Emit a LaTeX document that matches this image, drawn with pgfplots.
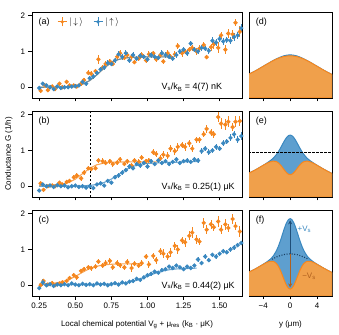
\documentclass[border=0pt]{standalone}
\usepackage{pgfplots}
\pgfplotsset{compat=1.18}
\usepackage{pgfplotstable}
\usepackage{fontspec}
\setmainfont{Liberation Sans}
\usetikzlibrary{arrows.meta}
\definecolor{cor}{HTML}{F5871F}
\definecolor{cbl}{HTML}{3A88C0}
\definecolor{corf}{HTML}{F0A04B}
\definecolor{cblf}{HTML}{5E9FCF}
\definecolor{cord}{HTML}{B0601E}
\definecolor{cbld}{HTML}{1F4E78}

% ---- panel (a) ----
\pgfplotstableread{
x y e
0.26 -0.10 0.05
0.29 0.05 0.05
0.31 -0.08 0.05
0.34 0.02 0.05
0.36 -0.05 0.05
0.39 0.10 0.06
0.41 0.00 0.05
0.44 0.15 0.06
0.46 0.05 0.05
0.49 0.05 0.05
0.51 0.02 0.05
0.54 0.10 0.06
0.56 0.20 0.06
0.59 0.40 0.07
0.61 0.38 0.06
0.64 0.45 0.07
0.66 0.78 0.12
0.69 0.55 0.07
0.71 0.65 0.08
0.74 0.72 0.07
0.76 0.65 0.07
0.79 0.85 0.08
0.81 0.95 0.08
0.84 0.82 0.07
0.86 0.90 0.08
0.89 0.85 0.08
0.91 0.70 0.06
0.94 0.80 0.07
0.96 0.90 0.07
0.99 0.75 0.07
1.01 0.92 0.08
1.04 0.95 0.07
1.06 0.78 0.07
1.09 0.90 0.08
1.11 0.72 0.07
1.14 0.95 0.08
1.16 0.85 0.07
1.19 0.92 0.08
1.21 1.15 0.08
1.24 0.95 0.10
1.26 1.00 0.08
1.29 1.05 0.08
1.31 1.10 0.09
1.34 1.00 0.10
1.36 1.08 0.09
1.39 1.18 0.08
1.41 0.84 0.06
1.44 1.12 0.10
1.46 1.20 0.12
1.49 1.10 0.15
1.51 1.45 0.10
1.54 1.05 0.12
1.56 1.50 0.12
1.59 1.48 0.12
1.61 1.80 0.10
1.64 1.55 0.15
}\oa
\pgfplotstableread{
x y e
0.25 -0.02 0.05
0.275 0.10 0.05
0.30 0.05 0.05
0.325 0.00 0.05
0.35 -0.05 0.05
0.375 0.02 0.05
0.40 -0.02 0.05
0.425 0.00 0.05
0.45 0.00 0.05
0.475 0.02 0.05
0.50 0.03 0.05
0.525 0.05 0.05
0.55 0.15 0.06
0.575 0.10 0.06
0.60 0.25 0.06
0.625 0.30 0.06
0.65 0.40 0.06
0.675 0.50 0.07
0.70 0.55 0.07
0.725 0.68 0.07
0.75 0.65 0.07
0.775 0.75 0.07
0.80 0.92 0.08
0.825 0.85 0.08
0.85 0.95 0.08
0.875 0.75 0.07
0.90 0.90 0.08
0.925 0.80 0.07
0.95 0.88 0.07
0.975 0.85 0.07
1.00 0.78 0.07
1.025 0.90 0.07
1.05 0.85 0.07
1.075 0.82 0.07
1.10 0.95 0.08
1.125 0.90 0.07
1.15 0.85 0.07
1.175 0.80 0.07
1.20 0.90 0.08
1.225 1.00 0.08
1.25 1.05 0.08
1.275 0.95 0.08
1.30 1.22 0.08
1.325 1.05 0.08
1.35 1.00 0.08
1.375 1.10 0.08
1.40 1.08 0.08
1.425 1.02 0.08
1.45 1.30 0.09
1.475 1.25 0.09
1.50 1.35 0.09
1.525 1.28 0.09
1.55 1.32 0.09
1.575 1.30 0.10
1.60 1.40 0.10
1.625 1.45 0.10
1.65 1.65 0.12
}\ba
\pgfplotstableread{
x y
0.25 0.000
0.40 0.006
0.45 0.015
0.50 0.037
0.55 0.086
0.60 0.186
0.65 0.348
0.70 0.538
0.75 0.689
0.80 0.777
0.85 0.819
0.90 0.837
0.95 0.844
1.00 0.848
1.18 0.850
}\fa

% ---- panel (b) ----
\pgfplotstableread{
x y e
0.26 0.08 0.05
0.28 -0.10 0.05
0.31 0.00 0.04
0.34 0.02 0.04
0.36 0.00 0.04
0.39 0.10 0.05
0.41 0.05 0.05
0.44 0.12 0.05
0.46 0.15 0.05
0.49 0.25 0.06
0.51 0.30 0.06
0.54 0.22 0.06
0.56 0.38 0.06
0.59 0.50 0.06
0.61 0.48 0.06
0.64 0.50 0.06
0.66 0.72 0.08
0.69 0.70 0.08
0.71 0.65 0.07
0.74 0.70 0.07
0.76 0.62 0.07
0.79 0.66 0.07
0.81 0.75 0.07
0.84 0.62 0.06
0.86 0.70 0.07
0.89 0.58 0.06
0.91 0.72 0.07
0.94 0.68 0.07
0.96 0.80 0.07
0.99 0.70 0.07
1.01 0.72 0.07
1.04 0.95 0.08
1.06 0.90 0.08
1.09 0.78 0.08
1.11 0.88 0.10
1.14 0.85 0.10
1.16 1.05 0.10
1.19 0.98 0.10
1.21 1.10 0.12
1.24 1.15 0.08
1.26 1.10 0.12
1.29 1.20 0.10
1.31 1.05 0.10
1.34 1.30 0.08
1.36 1.30 0.08
1.39 1.45 0.08
1.41 1.60 0.12
1.44 1.50 0.10
1.46 1.45 0.10
1.49 1.93 0.15
1.51 1.75 0.15
1.54 1.72 0.15
1.56 1.80 0.15
1.59 1.65 0.12
1.61 1.80 0.15
1.64 1.82 0.15
}\ob
\pgfplotstableread{
x y e
0.25 -0.12 0.05
0.275 0.05 0.04
0.30 0.00 0.04
0.325 0.02 0.04
0.35 -0.02 0.04
0.375 0.03 0.04
0.40 0.00 0.04
0.425 0.02 0.04
0.45 -0.03 0.04
0.475 0.00 0.04
0.50 0.02 0.04
0.525 -0.02 0.04
0.55 0.00 0.04
0.575 -0.04 0.04
0.60 0.00 0.04
0.625 -0.05 0.04
0.65 0.05 0.05
0.675 0.08 0.05
0.70 0.02 0.05
0.725 0.15 0.05
0.75 0.10 0.05
0.775 0.25 0.06
0.80 0.30 0.06
0.825 0.38 0.06
0.85 0.45 0.06
0.875 0.55 0.06
0.90 0.50 0.06
0.925 0.62 0.06
0.95 0.58 0.06
0.975 0.65 0.06
1.00 0.55 0.06
1.025 0.70 0.06
1.05 0.62 0.06
1.075 0.72 0.07
1.10 0.65 0.06
1.125 0.70 0.06
1.15 0.62 0.06
1.175 0.68 0.06
1.20 0.75 0.06
1.225 0.65 0.06
1.25 0.70 0.06
1.275 0.72 0.06
1.30 0.68 0.06
1.325 0.75 0.06
1.35 0.72 0.06
1.375 0.98 0.08
1.40 1.05 0.08
1.425 0.95 0.08
1.45 1.00 0.08
1.475 1.10 0.08
1.50 1.05 0.08
1.525 1.20 0.08
1.55 1.25 0.08
1.575 1.35 0.10
1.60 1.45 0.10
1.625 1.30 0.10
1.65 1.40 0.10
}\bb
\pgfplotstableread{
x y
0.25 0.022
0.35 0.032
0.40 0.051
0.45 0.099
0.50 0.198
0.55 0.350
0.60 0.500
0.65 0.600
0.70 0.649
0.75 0.668
0.80 0.676
0.90 0.679
1.07 0.680
}\fob
\pgfplotstableread{
x y
0.25 0.000
0.50 0.004
0.60 0.023
0.65 0.050
0.70 0.105
0.75 0.200
0.80 0.330
0.85 0.460
0.90 0.555
0.95 0.610
1.00 0.637
1.10 0.656
1.20 0.670
1.36 0.695
}\fbb

% ---- panel (c) ----
\pgfplotstableread{
x y e
0.26 0.00 0.05
0.28 0.12 0.06
0.31 0.02 0.05
0.34 0.06 0.05
0.36 0.00 0.05
0.39 0.05 0.05
0.41 0.08 0.05
0.44 0.12 0.05
0.46 0.20 0.06
0.49 0.28 0.06
0.51 0.22 0.06
0.54 0.40 0.06
0.56 0.45 0.06
0.59 0.50 0.07
0.61 0.48 0.07
0.64 0.52 0.07
0.66 0.66 0.08
0.69 0.55 0.07
0.71 0.62 0.08
0.74 0.68 0.08
0.76 0.50 0.07
0.79 0.62 0.08
0.81 0.56 0.07
0.84 0.50 0.07
0.86 0.65 0.08
0.89 0.48 0.10
0.91 0.60 0.07
0.94 0.55 0.08
0.96 0.62 0.08
0.99 0.80 0.08
1.01 0.58 0.10
1.04 0.82 0.08
1.06 0.70 0.10
1.09 0.95 0.10
1.11 0.88 0.12
1.14 0.80 0.10
1.16 0.92 0.12
1.19 1.10 0.12
1.21 1.00 0.12
1.24 1.25 0.10
1.26 1.20 0.12
1.29 1.38 0.12
1.31 1.47 0.15
1.34 1.28 0.12
1.36 1.22 0.10
1.39 1.74 0.15
1.41 1.55 0.12
1.44 1.70 0.12
1.46 1.62 0.10
1.49 1.78 0.15
1.51 1.55 0.12
1.54 1.70 0.15
1.56 1.60 0.12
1.59 1.85 0.15
1.61 1.65 0.12
1.64 1.50 0.15
}\oc
\pgfplotstableread{
x y e
0.25 -0.08 0.05
0.275 0.08 0.10
0.30 0.00 0.05
0.325 0.03 0.04
0.35 -0.02 0.04
0.375 0.02 0.04
0.40 0.00 0.04
0.425 0.03 0.04
0.45 0.00 0.04
0.475 0.05 0.04
0.50 0.02 0.04
0.525 0.00 0.04
0.55 0.04 0.04
0.575 0.01 0.04
0.60 0.03 0.04
0.625 0.00 0.04
0.65 0.05 0.04
0.675 0.02 0.04
0.70 0.04 0.04
0.725 0.00 0.04
0.75 0.03 0.04
0.775 0.06 0.04
0.80 0.02 0.04
0.825 0.08 0.04
0.85 0.05 0.04
0.875 0.10 0.05
0.90 0.12 0.05
0.925 0.18 0.05
0.95 0.15 0.05
0.975 0.22 0.05
1.00 0.28 0.05
1.025 0.32 0.05
1.05 0.38 0.05
1.075 0.35 0.05
1.10 0.42 0.05
1.125 0.45 0.05
1.15 0.52 0.05
1.175 0.48 0.05
1.20 0.55 0.05
1.225 0.50 0.05
1.25 0.45 0.05
1.275 0.52 0.05
1.30 0.48 0.05
1.325 0.55 0.05
1.35 0.72 0.06
1.375 0.62 0.06
1.40 0.80 0.06
1.425 0.70 0.06
1.45 0.85 0.06
1.475 0.80 0.06
1.50 0.88 0.06
1.525 0.95 0.06
1.55 0.92 0.06
1.575 1.00 0.06
1.60 1.05 0.06
1.625 1.12 0.06
1.65 1.18 0.06
}\bc
\pgfplotstableread{
x y
0.25 0.035
0.35 0.057
0.40 0.089
0.45 0.149
0.50 0.245
0.55 0.362
0.60 0.465
0.65 0.532
0.70 0.568
0.75 0.586
0.80 0.594
0.90 0.599
0.97 0.600
}\foc
\pgfplotstableread{
x y
0.25 0.020
0.60 0.022
0.70 0.026
0.80 0.045
0.85 0.068
0.90 0.109
0.95 0.171
1.00 0.250
1.05 0.329
1.10 0.391
1.15 0.432
1.20 0.455
1.34 0.478
}\fbc

% ---- right panels: y, orange, blue ----
\pgfplotstableread{
x o b
-6.2 0.273 0.273
-5.5 0.301 0.301
-5 0.322 0.322
-4.5 0.345 0.345
-4 0.368 0.368
-3.5 0.391 0.391
-3 0.414 0.414
-2.5 0.435 0.436
-2 0.454 0.456
-1.5 0.469 0.474
-1 0.481 0.489
-0.5 0.488 0.498
0 0.490 0.502
0.5 0.488 0.498
1 0.481 0.489
1.5 0.469 0.474
2 0.454 0.456
2.5 0.435 0.436
3 0.414 0.414
3.5 0.391 0.391
4 0.368 0.368
4.5 0.345 0.345
5 0.322 0.322
5.5 0.301 0.301
6.2 0.273 0.273
}\pd
\pgfplotstableread{
x o b
-6.2 0.273 0.273
-5.5 0.301 0.301
-5 0.322 0.322
-4.5 0.345 0.345
-4 0.368 0.368
-3.5 0.390 0.393
-3 0.408 0.420
-2.5 0.418 0.452
-2 0.410 0.498
-1.75 0.397 0.527
-1.5 0.378 0.560
-1.25 0.355 0.596
-1 0.328 0.633
-0.75 0.302 0.667
-0.5 0.280 0.695
-0.25 0.265 0.714
0 0.260 0.720
0.25 0.265 0.714
0.5 0.280 0.695
0.75 0.302 0.667
1 0.328 0.633
1.25 0.355 0.596
1.5 0.378 0.560
1.75 0.397 0.527
2 0.410 0.498
2.5 0.418 0.452
3 0.408 0.420
3.5 0.390 0.393
4 0.368 0.368
4.5 0.345 0.345
5 0.322 0.322
5.5 0.301 0.301
6.2 0.273 0.273
}\pe
\pgfplotstableread{
x o b
-6.2 0.273 0.273
-5.5 0.301 0.301
-5 0.322 0.322
-4.5 0.345 0.345
-4 0.367 0.369
-3.5 0.389 0.394
-3 0.404 0.424
-2.5 0.404 0.466
-2 0.375 0.532
-1.75 0.346 0.577
-1.5 0.307 0.631
-1.25 0.260 0.690
-1 0.209 0.752
-0.75 0.160 0.810
-0.5 0.118 0.857
-0.25 0.090 0.889
0 0.080 0.900
0.25 0.090 0.889
0.5 0.118 0.857
0.75 0.160 0.810
1 0.209 0.752
1.25 0.260 0.690
1.5 0.307 0.631
1.75 0.346 0.577
2 0.375 0.532
2.5 0.404 0.466
3 0.404 0.424
3.5 0.389 0.394
4 0.367 0.369
4.5 0.345 0.345
5 0.322 0.322
5.5 0.301 0.301
6.2 0.273 0.273
}\pf

\pgfplotsset{
  frame/.style={
    scale only axis, axis line style={line width=0.8pt},
    tick align=outside, tick pos=left, major tick length=3.5bp,
    every tick/.style={black, line width=0.8pt},
    /pgf/number format/assume math mode=true,
  },
  left/.style={frame, width=210bp, height=86bp,
    xmin=0.2, xmax=1.655, ymin=-0.3, ymax=2.1,
    xtick={0.25,0.5,0.75,1,1.25,1.5}, ytick={0,1,2},
    yticklabels={0,1,2}, xticklabels={}},
  right/.style={frame, width=83bp, height=86bp,
    xmin=-6.1, xmax=6.2, ymin=0, ymax=1,
    xtick={-4,0,4}, ytick=\empty, xticklabels={}},
  pts/.style={only marks, mark=*, mark size=1.7pt, line width=0.9pt,
    error bars/y dir=both, error bars/y explicit, error bars/error mark=none,
    error bars/error bar style={line width=0.9pt}},
  fit/.style={line width=1.1pt, opacity=0.75},
  bfill/.style={fill=cblf, draw=cbl, line width=1pt, smooth},
  ofill/.style={fill=corf, draw=cor, line width=1pt, smooth},
  crossleg/.style={legend image code/.code={
    \draw[line width=1pt] (4.5bp,-4.5bp)--(4.5bp,4.5bp) (0bp,0bp)--(9bp,0bp);
    \fill (4.5bp,0bp) circle (1.5pt);}},
}
\tikzset{ann/.style={anchor=west, font=\fontsize{9}{10}\selectfont}}

\begin{document}
\begin{tikzpicture}[font=\fontsize{8}{9.6}\selectfont]
\useasboundingbox (0,0) rectangle (339bp,335bp);

% (a)
\begin{axis}[left, at={(32bp,237bp)}, anchor=south west,
  legend style={draw=none, fill=none, at={(rel axis cs:0.105,0.885)}, anchor=west,
    font=\fontsize{9}{10}\selectfont,
    /tikz/every even column/.append style={column sep=8bp}},
  legend columns=2]
\addlegendimage{cor, crossleg}
\addlegendentry{$|\,{\downarrow}\,\rangle$}
\addlegendimage{cbl, crossleg}
\addlegendentry{$|\,{\uparrow}\,\rangle$}
\addplot[pts, cor, forget plot] table[x=x, y=y, y error=e] {\oa};
\addplot[pts, cbl, forget plot] table[x=x, y=y, y error=e] {\ba};
\addplot[fit, cor, forget plot] table[x=x, y=y] {\fa};
\addplot[fit, cbl, forget plot] table[x=x, y=y] {\fa};
\node[ann] at (rel axis cs:0.015,0.885) {(a)};
\node[ann] at (rel axis cs:0.6,0.12) {V\textsubscript{s}/k\textsubscript{B} = 4(7) nK};
\end{axis}

% (b)
\begin{axis}[left, at={(32bp,138bp)}, anchor=south west,
  ylabel={Conductance G (1/h)},
  ylabel style={at={(axis description cs:-0.11,0.5)}, anchor=center}]
\addplot[black, line width=0.8pt, dash pattern=on 2.5pt off 1.5pt] coordinates {(0.608,-0.3) (0.608,2.1)};
\addplot[pts, cor] table[x=x, y=y, y error=e] {\ob};
\addplot[pts, cbl] table[x=x, y=y, y error=e] {\bb};
\addplot[fit, cor] table[x=x, y=y] {\fob};
\addplot[fit, cbl] table[x=x, y=y] {\fbb};
\node[ann] at (rel axis cs:0.015,0.885) {(b)};
\node[ann] at (rel axis cs:0.6,0.12) {V\textsubscript{s}/k\textsubscript{B} = 0.25(1) μK};
\end{axis}

% (c)
\begin{axis}[left, at={(32bp,39bp)}, anchor=south west,
  xticklabels={0.25,0.50,0.75,1.00,1.25,1.50},
  xlabel={Local chemical potential V\textsubscript{g} + μ\textsubscript{res} (k\textsubscript{B} · μK)},
  xlabel style={at={(axis description cs:0.5,-0.33)}, anchor=center}]
\addplot[pts, cor] table[x=x, y=y, y error=e] {\oc};
\addplot[pts, cbl] table[x=x, y=y, y error=e] {\bc};
\addplot[fit, cor] table[x=x, y=y] {\foc};
\addplot[fit, cbl] table[x=x, y=y] {\fbc};
\node[ann] at (rel axis cs:0.015,0.885) {(c)};
\node[ann] at (rel axis cs:0.6,0.12) {V\textsubscript{s}/k\textsubscript{B} = 0.44(2) μK};
\end{axis}

% (d)
\begin{axis}[right, at={(249bp,237bp)}, anchor=south west]
\addplot[bfill] table[x=x, y=b] {\pd} \closedcycle;
\addplot[ofill] table[x=x, y=o] {\pd} \closedcycle;
\node[ann] at (rel axis cs:0.04,0.885) {(d)};
\end{axis}

% (e)
\begin{axis}[right, at={(249bp,138bp)}, anchor=south west]
\addplot[bfill] table[x=x, y=b] {\pe} \closedcycle;
\addplot[ofill] table[x=x, y=o] {\pe} \closedcycle;
\addplot[black, line width=0.8pt, dash pattern=on 2.5pt off 1.5pt] coordinates {(-6.2,0.52) (6.2,0.52)};
\node[ann] at (rel axis cs:0.04,0.885) {(e)};
\end{axis}

% (f)
\begin{axis}[right, at={(249bp,39bp)}, anchor=south west,
  xticklabels={−4,0,4}, xlabel={y (μm)},
  xlabel style={at={(axis description cs:0.5,-0.33)}, anchor=center}]
\addplot[bfill] table[x=x, y=b] {\pf} \closedcycle;
\addplot[ofill] table[x=x, y=o] {\pf} \closedcycle;
\addplot[cbld!80!black, line width=1.1pt, dash pattern=on 1pt off 1.6pt, smooth]
  coordinates {(-2.7,0.427) (-2,0.454) (-1,0.481) (0,0.490) (1,0.481) (2,0.454) (2.7,0.427)};
\addplot[cbld, line width=0.9pt, -{Stealth[length=4pt,width=4pt]}] coordinates {(0,0.49) (0,0.88)};
\addplot[cord, line width=0.9pt, -{Stealth[length=4pt,width=4pt]}] coordinates {(0,0.49) (0,0.10)};
\node[cbl] at (axis cs:2.1,0.77) {+V\textsubscript{s}};
\node[cord] at (axis cs:2.8,0.23) {−V\textsubscript{s}};
\node[ann] at (rel axis cs:0.04,0.885) {(f)};
\end{axis}
\end{tikzpicture}
\end{document}
